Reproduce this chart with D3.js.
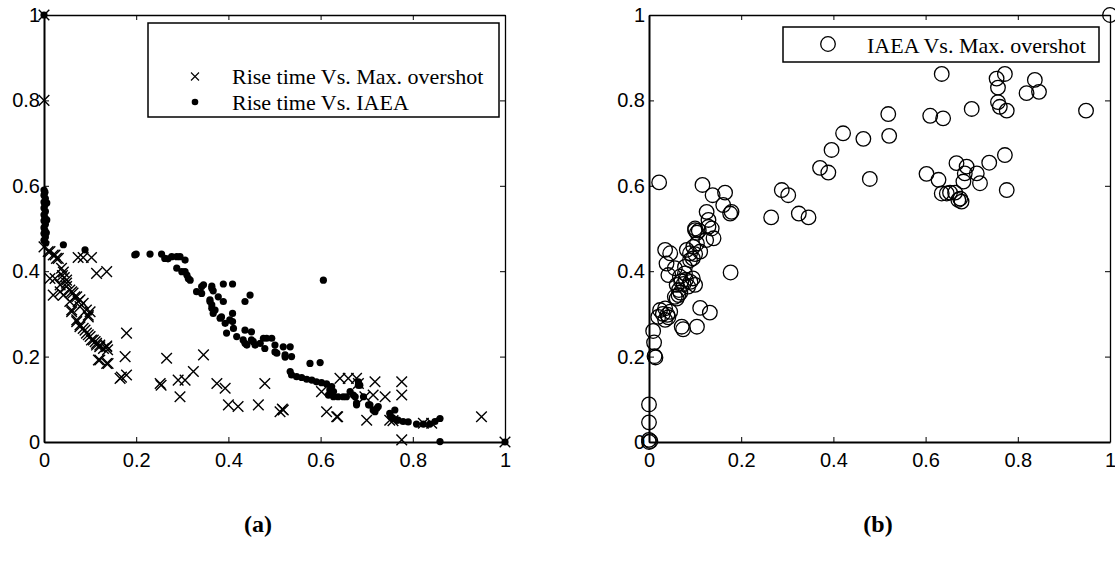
<!DOCTYPE html>
<html><head><meta charset="utf-8">
<script src="https://cdn.jsdelivr.net/npm/d3@7"></script>
<style>
html,body{margin:0;padding:0;background:#fff;}
svg{display:block;}
</style></head>
<body>
<svg id="chart" width="1115" height="569"></svg>
<script>
// ---------- DATA ----------
const tickValues = [0, 0.2, 0.4, 0.6, 0.8, 1];
const tickLabels = ["0", "0.2", "0.4", "0.6", "0.8", "1"];
const legendA = ["Rise time Vs. Max. overshot", "Rise time Vs. IAEA"];
const legendB = ["IAEA Vs. Max. overshot"];
const panelLabels = ["(a)", "(b)"];

// (a) Rise time vs Max. overshot  [rise time, max overshot]
const riseVsOvershoot = [
[0,1],[0,0.8],[1,0],[0.776,0.005],
[0,0.457],[0.009,0.446],[0.013,0.446],[0.02,0.438],[0.024,0.438],[0.027,0.43],[0.031,0.43],
[0.074,0.432],[0.085,0.432],[0.103,0.432],[0.114,0.395],[0.136,0.399],
[0.013,0.383],[0.024,0.383],[0.038,0.407],[0.040,0.39],[0.042,0.398],[0.049,0.379],[0.044,0.385],
[0.02,0.344],[0.035,0.352],[0.035,0.368],[0.049,0.372],[0.049,0.364],[0.042,0.344],[0.056,0.356],[0.06,0.352],[0.063,0.349],[0.067,0.34],[0.071,0.34],[0.078,0.333],[0.085,0.325],
[0.056,0.329],[0.074,0.329],[0.078,0.317],[0.06,0.309],[0.06,0.305],[0.071,0.286],[0.092,0.309],[0.096,0.297],[0.096,0.293],[0.1,0.305],
[0.071,0.282],[0.078,0.274],[0.078,0.27],[0.085,0.266],[0.089,0.262],[0.092,0.255],[0.096,0.251],[0.1,0.247],[0.103,0.239],[0.107,0.239],[0.111,0.235],[0.114,0.231],[0.114,0.227],[0.121,0.227],[0.121,0.223],[0.129,0.219],[0.136,0.225],[0.138,0.216],[0.136,0.223],
[0.121,0.192],[0.118,0.192],[0.136,0.184],[0.139,0.184],
[0.165,0.149],[0.168,0.152],[0.179,0.157],[0.176,0.2],[0.179,0.255],
[0.266,0.196],[0.252,0.137],[0.254,0.133],[0.291,0.145],[0.295,0.106],[0.306,0.145],[0.324,0.165],[0.346,0.204],[0.375,0.137],[0.393,0.126],[0.4,0.087],[0.421,0.083],[0.465,0.087],[0.479,0.137],[0.512,0.071],[0.519,0.075],[0.517,0.077],
[0.613,0.071],[0.635,0.059],[0.637,0.059],[0.602,0.118],[0.642,0.149],[0.66,0.149],[0.678,0.149],[0.682,0.137],[0.718,0.141],[0.776,0.141],[0.7,0.051],[0.714,0.11],[0.74,0.106],[0.776,0.11],[0.696,0.106],[0.75,0.051],[0.757,0.05],[0.949,0.059],[0.841,0.044],[0.823,0.044]
];

// (a) Rise time vs IAEA  [rise time, IAEA]
const riseVsIAEA = [
[0,1],[1,0],[0.859,0.001],
[0,0.59],[0.002,0.585],[0,0.578],[0.003,0.57],[0,0.562],[0.002,0.555],[0,0.548],[0.003,0.54],[0,0.532],[0.002,0.525],[0,0.518],[0.003,0.51],[0,0.502],[0.002,0.495],[0,0.488],[0.003,0.48],[0,0.472],[0.004,0.466],[0.006,0.56],[0.006,0.52],[0.005,0.49],
[0.042,0.462],[0.089,0.45],
[0.197,0.438],[0.2,0.44],[0.23,0.44],[0.255,0.44],[0.262,0.43],[0.269,0.429],[0.277,0.434],[0.288,0.434],[0.295,0.434],[0.306,0.426],
[0.288,0.407],[0.299,0.399],[0.306,0.399],[0.31,0.391],[0.313,0.383],[0.317,0.379],
[0.331,0.352],[0.342,0.348],[0.342,0.364],[0.346,0.368],[0.364,0.365],[0.364,0.36],[0.367,0.354],[0.389,0.37],[0.409,0.37],
[0.36,0.333],[0.36,0.329],[0.364,0.321],[0.364,0.313],[0.367,0.301],[0.371,0.309],[0.378,0.34],[0.389,0.329],[0.382,0.29],[0.385,0.293],[0.393,0.278],[0.403,0.286],[0.409,0.301],[0.409,0.282],[0.411,0.266],[0.396,0.255],[0.418,0.247],
[0.447,0.344],[0.436,0.329],[0.436,0.262],[0.45,0.258],[0.432,0.239],[0.436,0.231],[0.44,0.227],[0.45,0.239],[0.454,0.235],[0.458,0.227],[0.469,0.231],[0.479,0.219],[0.476,0.243],[0.483,0.243],[0.494,0.243],[0.501,0.227],[0.505,0.208],[0.501,0.211],[0.519,0.223],[0.534,0.223],[0.523,0.204],[0.523,0.199],[0.537,0.2],
[0.606,0.379],[0.577,0.184],[0.599,0.186],
[0.534,0.165],[0.537,0.157],[0.548,0.153],[0.559,0.151],[0.57,0.147],[0.581,0.145],[0.591,0.141],[0.602,0.139],[0.613,0.136],[0.624,0.13],[0.628,0.118],[0.62,0.122],[0.617,0.11],[0.628,0.106],[0.638,0.106],[0.649,0.106],[0.656,0.106],[0.664,0.118],[0.671,0.11],[0.675,0.106],[0.682,0.141],[0.682,0.133],[0.685,0.133],[0.678,0.087],[0.678,0.091],[0.693,0.106],[0.704,0.087],[0.707,0.087],[0.714,0.075],[0.718,0.071],[0.722,0.079],[0.725,0.083],
[0.75,0.067],[0.752,0.06],[0.757,0.055],[0.761,0.075],[0.765,0.051],[0.768,0.051],[0.779,0.048],[0.79,0.047],[0.808,0.042],[0.823,0.042],[0.837,0.042],[0.848,0.048],[0.859,0.055]
];

// (b) IAEA vs Max. overshot  [IAEA, max overshot]
const iaeaVsOvershoot = [
[1,1],[0,0],[0,0.005],[0.003,0.002],[0,0.046],[0,0.088],
[0.009,0.26],[0.011,0.233],[0.012,0.201],[0.014,0.198],
[0.02,0.293],[0.024,0.309],[0.03,0.3],[0.035,0.313],[0.035,0.286],[0.04,0.298],[0.046,0.305],[0.042,0.292],
[0.071,0.27],[0.074,0.264],[0.104,0.27],[0.111,0.314],[0.132,0.303],[0.177,0.397],
[0.035,0.45],[0.046,0.442],[0.038,0.418],[0.042,0.391],[0.056,0.407],[0.067,0.387],[0.06,0.368],[0.075,0.37],[0.085,0.364],[0.1,0.368],[0.064,0.344],[0.068,0.35],[0.06,0.336],[0.056,0.34],[0.065,0.356],[0.07,0.376],[0.08,0.38],[0.09,0.375],[0.095,0.383],[0.078,0.395],[0.078,0.41],[0.089,0.426],[0.082,0.45],[0.089,0.442],[0.096,0.457],[0.104,0.465],[0.111,0.446],[0.1,0.44],[0.095,0.43],[0.104,0.49],[0.1,0.5],[0.108,0.495],[0.129,0.504],[0.14,0.477],[0.124,0.473],[0.1,0.496],
[0.022,0.608],[0.116,0.602],[0.138,0.578],[0.165,0.584],[0.161,0.555],[0.179,0.539],[0.176,0.535],[0.125,0.539],[0.129,0.52],[0.136,0.5],
[0.265,0.526],[0.288,0.59],[0.302,0.578],[0.325,0.535],[0.346,0.526],[0.371,0.642],[0.389,0.631],[0.396,0.684],[0.421,0.723],[0.465,0.71],[0.479,0.616],[0.519,0.768],[0.521,0.717],
[0.635,0.862],[0.61,0.764],[0.638,0.758],[0.7,0.78],[0.754,0.851],[0.772,0.862],[0.757,0.83],[0.757,0.796],[0.761,0.785],[0.776,0.776],[0.819,0.817],[0.837,0.848],[0.846,0.82],[0.948,0.776],
[0.602,0.628],[0.628,0.614],[0.635,0.582],[0.646,0.582],[0.653,0.584],[0.667,0.653],[0.689,0.645],[0.685,0.629],[0.711,0.629],[0.682,0.61],[0.718,0.606],[0.738,0.654],[0.772,0.672],[0.776,0.59],[0.664,0.584],[0.671,0.567],[0.678,0.563],[0.675,0.57]
];

// ---------- DRAWING ----------
const svg = d3.select("#chart");
const TICK_FONT = "'Liberation Sans', Arial, sans-serif";
const SERIF = "'Liberation Serif', 'Times New Roman', serif";

const panels = [
  {x0: 44, x1: 505, y0: 442, y1: 15, label: panelLabels[0], labelX: 258},
  {x0: 649, x1: 1110, y0: 442, y1: 15, label: panelLabels[1], labelX: 878}
];

const crossPath = s => `M${-s},${-s}L${s},${s}M${-s},${s}L${s},${-s}`;

function drawAxes(g, x, y) {
  const fmt = d => tickLabels[tickValues.indexOf(d)];
  const bottom = g.append("g").attr("transform", `translate(0,${y.range()[0]})`)
    .call(d3.axisBottom(x).tickValues(tickValues).tickFormat(fmt).tickSize(-5).tickSizeOuter(0).tickPadding(11));
  const left = g.append("g").attr("transform", `translate(${x.range()[0]},0)`)
    .call(d3.axisLeft(y).tickValues(tickValues).tickFormat(fmt).tickSize(-5).tickSizeOuter(0).tickPadding(4));
  const top = g.append("g").attr("transform", `translate(0,${y.range()[1]})`)
    .call(d3.axisTop(x).tickValues(tickValues).tickFormat("").tickSize(-5).tickSizeOuter(0));
  const right = g.append("g").attr("transform", `translate(${x.range()[1]},0)`)
    .call(d3.axisRight(y).tickValues(tickValues).tickFormat("").tickSize(-5).tickSizeOuter(0));
  [bottom, left].forEach(a => a.select(".domain").attr("stroke", "#000").attr("stroke-width", 2));
  [top, right].forEach(a => a.select(".domain").attr("stroke", "#000").attr("stroke-width", 1.3));
  [bottom, left, top, right].forEach(a => a.selectAll(".tick line").attr("stroke", "#000").attr("stroke-width", 1));
  [bottom, left].forEach(a => a.selectAll(".tick text")
    .attr("font-family", TICK_FONT).attr("font-size", 20).attr("fill", "#000"));
}

// Panel (a)
{
  const p = panels[0];
  const x = d3.scaleLinear().domain([0, 1]).range([p.x0, p.x1]);
  const y = d3.scaleLinear().domain([0, 1]).range([p.y0, p.y1]);
  const g = svg.append("g");
  drawAxes(g, x, y);
  g.append("g").selectAll("path").data(riseVsOvershoot).join("path")
    .attr("transform", d => `translate(${x(d[0])},${y(d[1])})`)
    .attr("d", crossPath(5.3)).attr("stroke", "#000").attr("stroke-width", 1.4).attr("fill", "none");
  g.append("g").selectAll("circle").data(riseVsIAEA).join("circle")
    .attr("cx", d => x(d[0])).attr("cy", d => y(d[1])).attr("r", 3.6).attr("fill", "#000");

  // legend
  const lg = g.append("g");
  lg.append("rect").attr("x", 148).attr("y", 23).attr("width", 351).attr("height", 94)
    .attr("fill", "#fff").attr("stroke", "#000").attr("stroke-width", 1.5);
  lg.append("path").attr("transform", "translate(195,76.5)").attr("d", crossPath(4))
    .attr("stroke", "#000").attr("stroke-width", 1.1).attr("fill", "none");
  lg.append("circle").attr("cx", 195).attr("cy", 102).attr("r", 3.3).attr("fill", "#000");
  lg.selectAll("text").data(legendA).join("text")
    .attr("x", 232).attr("y", (d, i) => 84 + i * 26)
    .attr("font-family", SERIF).attr("font-size", 22).attr("fill", "#000").text(d => d);

  svg.append("text").attr("x", p.labelX).attr("y", 532).attr("text-anchor", "middle")
    .attr("font-family", SERIF).attr("font-weight", "bold").attr("font-size", 24).text(p.label);
}

// Panel (b)
{
  const p = panels[1];
  const x = d3.scaleLinear().domain([0, 1]).range([p.x0, p.x1]);
  const y = d3.scaleLinear().domain([0, 1]).range([p.y0, p.y1]);
  const g = svg.append("g");
  drawAxes(g, x, y);
  g.append("g").selectAll("circle").data(iaeaVsOvershoot).join("circle")
    .attr("cx", d => x(d[0])).attr("cy", d => y(d[1])).attr("r", 7.3)
    .attr("fill", "none").attr("stroke", "#000").attr("stroke-width", 1.3);

  const lg = g.append("g");
  lg.append("rect").attr("x", 783).attr("y", 27).attr("width", 316).attr("height", 35)
    .attr("fill", "#fff").attr("stroke", "#000").attr("stroke-width", 1.5);
  lg.append("circle").attr("cx", 828).attr("cy", 44).attr("r", 7.3)
    .attr("fill", "none").attr("stroke", "#000").attr("stroke-width", 1.3);
  lg.selectAll("text").data(legendB).join("text")
    .attr("x", 867).attr("y", 53)
    .attr("font-family", SERIF).attr("font-size", 22).attr("fill", "#000").text(d => d);

  svg.append("text").attr("x", p.labelX).attr("y", 532).attr("text-anchor", "middle")
    .attr("font-family", SERIF).attr("font-weight", "bold").attr("font-size", 24).text(p.label);
}
</script>
</body></html>
